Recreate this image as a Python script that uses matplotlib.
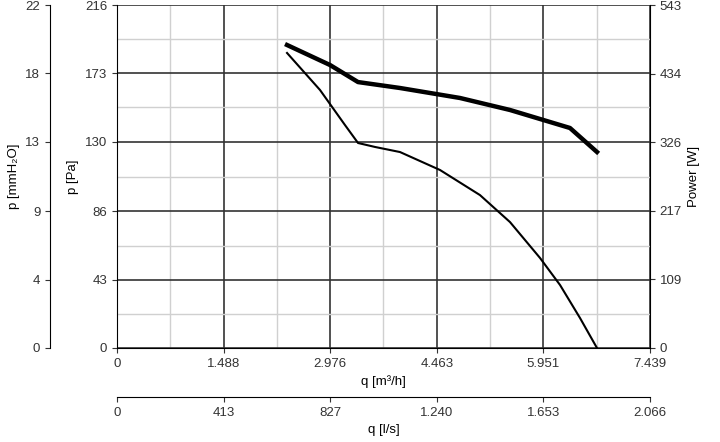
import matplotlib.pyplot as plt

plt.rcParams['font.family'] = ['Liberation Sans', 'DejaVu Sans']

# pressure curve (thin), q in m3/h, p in Pa
q_p = [2.373, 2.833, 3.182, 3.364, 3.601, 3.950, 4.508, 5.066, 5.485, 5.904, 6.183, 6.462, 6.699]
p_pa = [185.8, 162.5, 140.4, 129.1, 126.6, 123.4, 112.1, 96.3, 79.3, 56.7, 39.7, 18.9, 0.0]
# power curve (thick), W
q_w = [2.373, 2.973, 3.364, 3.950, 4.787, 5.485, 6.322, 6.699]
power = [479.7, 448.0, 421.0, 411.6, 395.8, 376.8, 348.3, 310.3]

x_ticks = [0, 1.488, 2.976, 4.463, 5.951, 7.439]
x_labels = ["0", "1.488", "2.976", "4.463", "5.951", "7.439"]
pa_ticks = [0, 43, 86, 130, 173, 216]
mm_labels = ["0", "4", "9", "13", "18", "22"]
w_labels = ["0", "109", "217", "326", "434", "543"]
ls_labels = ["0", "413", "827", "1.240", "1.653", "2.066"]

fig = plt.figure(figsize=(7.2, 4.42), dpi=100)
L, B, W, H = 117/720, 94/442, 533/720, 343/442
ax = fig.add_axes([L, B, W, H])
ax.set_xlim(0, 7.439)
ax.set_ylim(0, 216)
ax.set_xticks(x_ticks)
ax.set_xticklabels(x_labels)
ax.set_yticks(pa_ticks)
ax.set_yticks([(a + b) / 2 for a, b in zip(pa_ticks[:-1], pa_ticks[1:])], minor=True)
ax.set_xticks([(a + b) / 2 for a, b in zip(x_ticks[:-1], x_ticks[1:])], minor=True)
ax.grid(which="major", color="#333333", lw=1.2)
ax.grid(which="minor", color="#d0d0d0", lw=1.0)
ax.tick_params(which="minor", length=0)
ax.tick_params(labelsize=9.5, colors="#333333")
ax.set_xlabel("q [m³/h]", fontsize=9.5)
ax.set_ylabel("p [Pa]", fontsize=9.5)
for s in ["top", "right"]:
    ax.spines[s].set_visible(False)
ax.plot(q_p, p_pa, color="black", lw=1.5)

axr = ax.twinx()
axr.set_ylim(0, 543)
axr.set_yticks([int(v) for v in w_labels])
axr.set_yticklabels(w_labels)
axr.tick_params(labelsize=9.5, colors="#333333")
axr.set_ylabel("Power [W]", fontsize=9.5)
for s in ["top", "left", "bottom"]:
    axr.spines[s].set_visible(False)
axr.plot(q_w, power, color="black", lw=3.2)

# secondary pressure axis, mmH2O
axm = fig.add_axes([50/720, B, 0.0001, H])
axm.set_ylim(0, 216)
axm.set_yticks(pa_ticks)
axm.set_yticklabels(mm_labels)
axm.set_xticks([])
for s in ["top", "right", "bottom"]:
    axm.spines[s].set_visible(False)
axm.tick_params(labelsize=9.5, colors="#333333")
axm.set_ylabel("p [mmH₂O]", fontsize=9.5)

# secondary flow axis, l/s
axq = fig.add_axes([L, 45/442, W, 0.0001])
axq.set_xlim(0, 7.439)
axq.set_xticks(x_ticks)
axq.set_xticklabels(ls_labels)
axq.set_yticks([])
for s in ["top", "right", "left"]:
    axq.spines[s].set_visible(False)
axq.tick_params(labelsize=9.5, colors="#333333")
axq.set_xlabel("q [l/s]", fontsize=9.5)

fig.savefig("out.png", dpi=100)
